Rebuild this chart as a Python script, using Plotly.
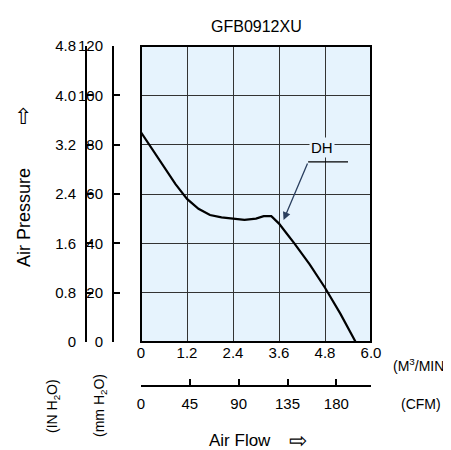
import plotly.graph_objects as go

flow = [0, 0.3, 0.6, 0.9, 1.2, 1.5, 1.8, 2.1, 2.4, 2.7, 3.0, 3.2, 3.4, 3.6, 3.8, 4.0, 4.4, 4.8, 5.2, 5.6]
pres = [85, 78, 71, 64, 58, 54, 51.5, 50.5, 50, 49.5, 50, 51, 51, 48, 44, 40, 31.5, 22, 11.5, 0]
x_ticks = [0, 1.2, 2.4, 3.6, 4.8, 6.0]
x_labels = ["0", "1.2", "2.4", "3.6", "4.8", "6.0"]
cfm_ticks = [0, 45, 90, 135, 180]
mm_ticks = [0, 20, 40, 60, 80, 100, 120]
in_ticks = [0, 0.8, 1.6, 2.4, 3.2, 4.0, 4.8]
in_labels = ["0", "0.8", "1.6", "2.4", "3.2", "4.0", "4.8"]

F = "Liberation Sans, Arial, sans-serif"
x0, x1 = 133/451, 363/451
y0, y1 = 1-334/450, 1-38/450

fig = go.Figure()
fig.add_trace(go.Scatter(x=flow, y=pres, mode="lines", line=dict(color="black", width=2.2), showlegend=False))
fig.add_trace(go.Scatter(x=[None], y=[None], xaxis="x2", yaxis="y2", showlegend=False))

tick = dict(ticks="inside", ticklen=6, tickcolor="black", tickwidth=2, showline=True,
            linecolor="black", linewidth=2, zeroline=False, automargin=False)
fig.update_layout(
    width=451, height=450, margin=dict(l=0, r=0, t=0, b=0, autoexpand=False),
    paper_bgcolor="white", plot_bgcolor="#e6f3fd",
    font=dict(family=F, size=15, color="black"),
    xaxis=dict(domain=[x0, x1], range=[0, 6], tickvals=x_ticks, ticktext=x_labels,
               showgrid=True, gridcolor="#333", gridwidth=1, ticks="", zeroline=False,
               anchor="y", showline=False, automargin=False),
    yaxis=dict(domain=[y0, y1], range=[0, 120], tickvals=mm_ticks, showgrid=True,
               gridcolor="#333", gridwidth=1, anchor="free", position=105/451,
               ticklabelstandoff=6, **tick),
    yaxis2=dict(overlaying="y", range=[0, 4.8], tickvals=in_ticks, ticktext=in_labels,
                anchor="free", position=78/451, side="left", showgrid=False,
                ticklabelstandoff=6, **tick),
    xaxis2=dict(overlaying="x", range=[0, 6*35.315], tickvals=cfm_ticks, anchor="free",
                position=1-378/450, side="bottom", showgrid=False, ticklabelstandoff=4, **tick),
)
fig.add_shape(type="rect", xref="x domain", yref="y domain", x0=0, x1=1, y0=0, y1=1,
              line=dict(color="black", width=2))
fig.add_shape(type="line", xref="paper", yref="paper", x0=133/451, x1=358/451,
              y0=1-378/450, y1=1-378/450, line=dict(color="black", width=2))

def ann(x, y, t, size=14, angle=0):
    fig.add_annotation(xref="paper", yref="paper", x=x/451, y=1-y/450, text=t, showarrow=False,
                       font=dict(size=size), textangle=angle, xanchor="center", yanchor="middle")

ann(248, 18, "GFB0912XU", 16)
ann(413, 357, "(M<sup>3</sup>/MIN)", 14)
ann(413, 396, "(CFM)", 14)
ann(232, 432, "Air Flow", 17)
ann(290, 432, "⇨", 22)
ann(16, 210, "Air Pressure", 18, -90)
ann(15, 108, "⇧", 22)
ann(45, 398, "(IN H<sub>2</sub>O)", 14, -90)
ann(92, 398, "(mm H<sub>2</sub>O)", 14, -90)

fig.add_annotation(x=3.72, y=49.5, ax=4.36, ay=73, axref="x", ayref="y", xref="x", yref="y",
                   showarrow=True, arrowhead=2, arrowsize=1.2, arrowwidth=1.3, text="")
fig.add_shape(type="line", xref="x", yref="y", x0=4.36, x1=5.4, y0=73, y1=73,
              line=dict(color="black", width=1.3))
fig.add_annotation(x=4.72, y=79, xref="x", yref="y", text="DH", showarrow=False,
                   font=dict(size=15), bgcolor="#e6f3fd")

fig.write_html("out.html")
